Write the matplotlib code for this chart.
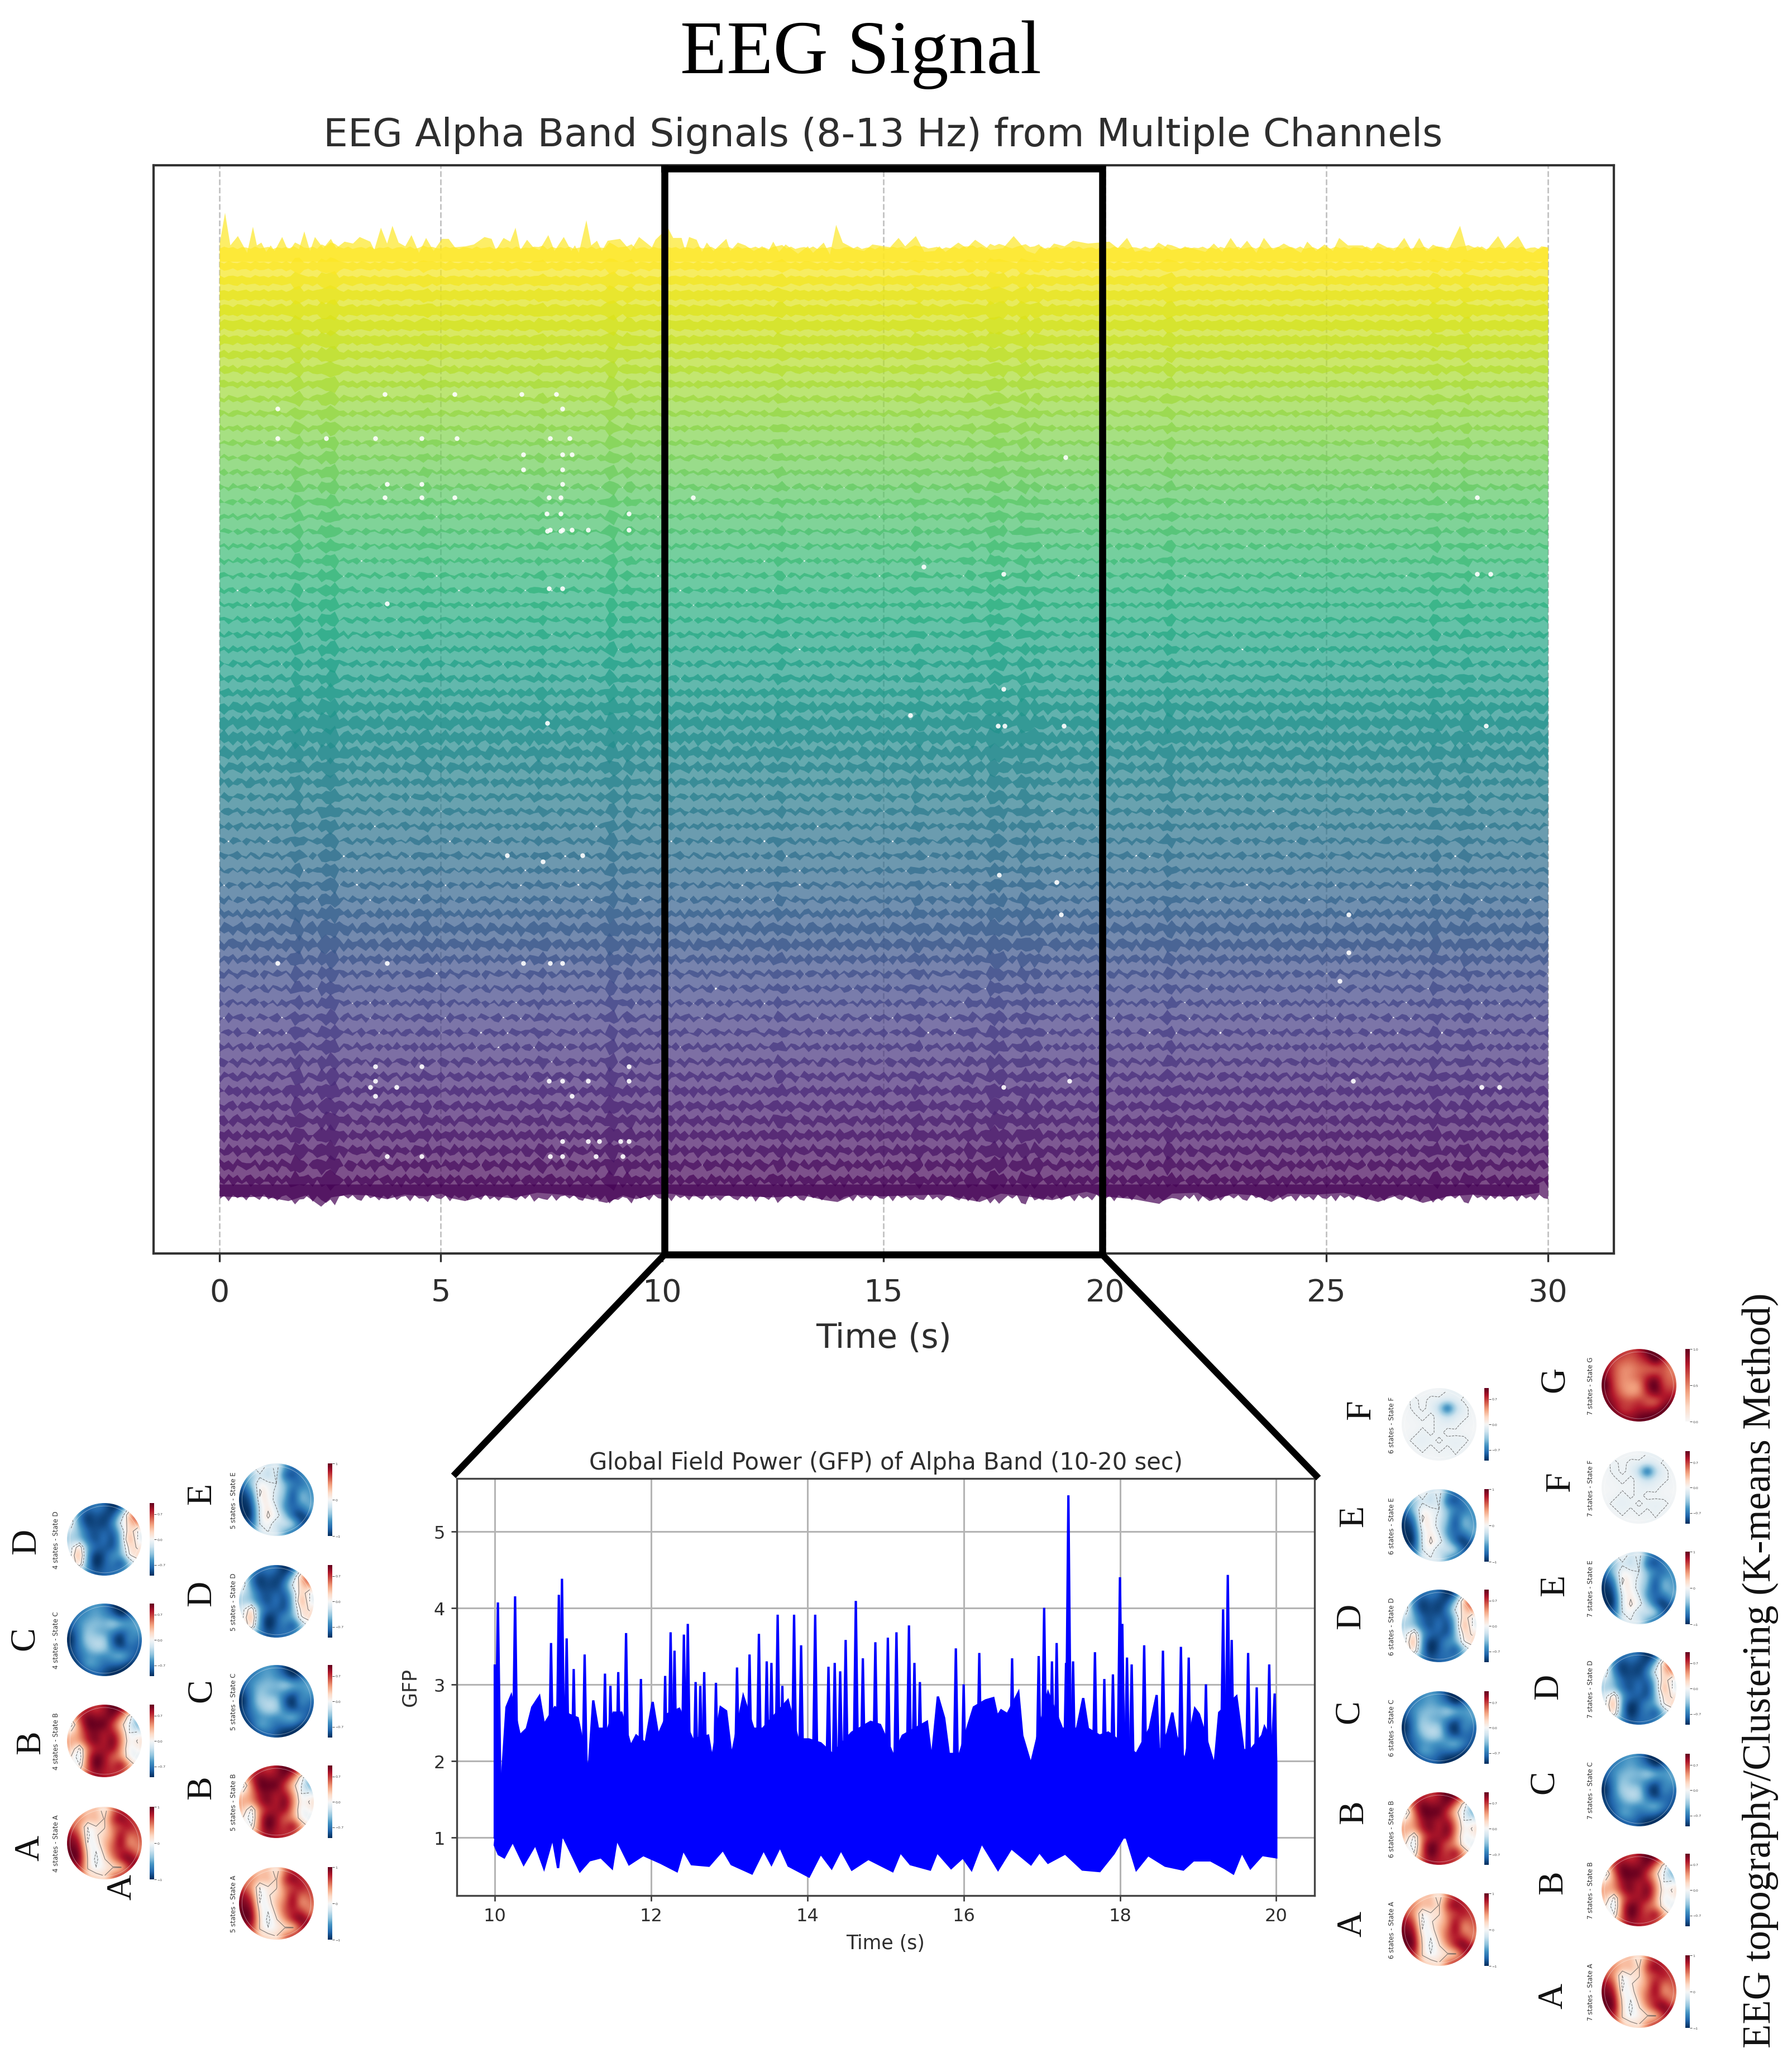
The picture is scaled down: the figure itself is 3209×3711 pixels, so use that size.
import numpy as np
import matplotlib
matplotlib.use('Agg')
import matplotlib.pyplot as plt
from matplotlib.patches import Circle

W, H = 3209, 3712
SERIF = 'Liberation Serif'
INK = '#2e2e2e'

# ---- main chart values ----
n_channels = 64
x_ticks_main = [0, 5, 10, 15, 20, 25, 30]

# half height of each channel's band, in channel spacings (bottom to top)
channel_halfwidth = [.70, .74, .72, .76, .74, .72, .74, .70, .67, .66,
                     .64, .64, .63, .63, .64, .67, .73, .80, .75, .64,
                     .63, .62, .62, .63, .63, .64, .64, .67, .71, .76,
                     .82, .84, .82, .73, .67, .64, .63, .63, .62, .62,
                     .62, .61, .61, .61, .62, .62, .62, .62, .63, .63,
                     .63, .63, .64, .64, .67, .70, .72, .76, .80, .84,
                     .84, .80, .76, .74]
# how far each band's edge wanders, same order
channel_wiggle = [.30, .32, .32, .30, .30, .30, .28, .28, .28, .28,
                  .26, .26, .26, .26, .26, .28, .30, .32, .30, .26,
                  .24, .24, .24, .24, .24, .24, .24, .26, .28, .30,
                  .30, .30, .28, .26, .24, .22, .22, .22, .22, .20,
                  .20, .20, .20, .20, .20, .20, .20, .20, .20, .18,
                  .18, .18, .18, .18, .16, .16, .16, .14, .14, .14,
                  .12, .12, .12, .12]

# band edge wobble, 0.1 s per value
wave_a = [.4, -.6, .7, -.2, .5, -.8, .3, .6, -.5, .2, -.7, .8, -.1, .4, -.6, .5, -.3, .7, -.8, .2,
          .6, -.4, .1, -.7, .5, .8, -.3, .2, -.6, .4, -.9, .6, -.2, .3, -.5, .7, -.4, .1, .6, -.8,
          .3, -.2, .8, -.6, .4, -.1, .5, -.7, .2, -.3]
wave_b = [-.3, .5, -.8, .6, -.1, .4, -.6, .7, .1, -.5, .8, -.4, .2, -.7, .3, .6, -.2, -.6, .5, -.3,
          .7, -.9, .4, .1, -.5, .6, -.7, .3, .5, -.2, .6, -.4, -.7, .8, -.1, .3, -.6, .5, -.3, .7,
          -.5, .2, .4, -.8, .6, -.2, .3, -.6, .7, -.1]
wave_c = [.6, .1, -.7, .3, -.4, .8, -.2, -.6, .5, .2, -.3, .7, -.8, .4, .1, -.5, .6, -.1, .3, -.7,
          .8, -.3, -.5, .4, .2, -.6, .7, -.2, .1, -.8, .5, .3, -.4, .6, -.7, .2, .4, -.1, -.6, .8,
          -.2, .5, -.7, .3, -.4, .6, .1, -.5, .4, -.6]
wave_d = [-.7, .2, .5, -.4, .8, -.6, .1, .3, -.8, .6, -.2, -.4, .7, -.1, .5, -.7, .4, .2, -.5, .8,
          -.3, .1, .6, -.7, .3, -.2, .5, -.6, .8, -.4, .2, -.1, .7, -.5, .3, -.8, .6, -.2, .4, -.3,
          .7, -.6, .1, .5, -.4, .8, -.7, .2, -.1, .6]
wave_e = [.2, .9, -.4, -.7, .6, .1, -.9, .5, .3, -.2, .7, -.6, -.1, .8, -.5, .2, .4, -.8, .6, -.3,
          -.1, .7, -.6, .3, .5, -.9, .2, .8, -.4, -.2, .6, -.7, .1, .4, -.3, .9, -.5, -.6, .7, .2,
          -.8, .3, .6, -.1, -.4, .5, -.9, .7, .1, -.2]
wave_f = [-.1, -.8, .3, .9, -.5, .2, .6, -.4, -.7, .8, .1, -.3, .5, -.9, .4, .7, -.2, -.6, .2, .6,
          -.8, .4, -.1, .5, -.3, -.7, .9, -.2, .3, .6, -.5, -.1, -.8, .7, .2, -.4, .1, .8, -.6, -.3,
          .5, .2, -.9, .6, .3, -.7, .4, -.1, -.5, .8]
wave_lists = [wave_a, wave_b, wave_c, wave_d, wave_e, wave_f]

# moments where every channel swells, giving the dark vertical streaks
burst_times = [1.7, 2.3, 2.5, 4.6, 7.2, 8.8, 9.2, 12.6, 15.7, 16.9, 17.4, 17.6, 18.1, 18.4, 21.4, 27.4, 28.1]
burst_sizes = [.27, .2, .3, .12, .12, .3, .15, .15, .15, .15, .24, .2, .24, .15, .2, .18, .18]

# top edge of the highest channel: time (s), height above the usual edge
top_time = [0, .12, .24, .41, .62, .75, .84, .94, 1.05, 1.15, 1.24, 1.41, 1.53, 1.67, 1.79, 1.91, 2.04, 2.15, 2.34,
            2.51, 2.63, 2.82, 3.01, 3.16, 3.40, 3.49, 3.64, 3.78, 3.90, 4.04, 4.19, 4.33, 4.50, 4.66, 4.83, 5.02,
            5.17, 5.31, 5.55, 5.74, 5.98, 6.14, 6.24, 6.41, 6.56, 6.68, 6.79, 6.94, 7.08, 7.22, 7.42, 7.56, 7.77,
            7.94, 8.02, 8.11, 8.28, 8.39, 8.52, 8.63, 8.76, 9.04, 9.28, 9.47, 9.76, 9.84, 10.12, 10.24, 10.43,
            10.51, 10.60, 10.77, 10.89, 11.0, 11.15, 11.44, 11.53, 11.70, 11.87, 12.06, 12.25, 12.39, 12.50, 12.63,
            12.78, 13.06, 13.28, 13.40, 13.64, 13.78, 13.92, 14.07, 14.35, 14.55, 14.74, 15.14, 15.33, 15.48, 15.72,
            15.91, 16.15, 16.25, 16.39, 16.68, 16.87, 17.06, 17.40, 17.69, 17.93, 18.22, 18.41, 18.55, 18.70, 18.84,
            19.08, 19.27, 19.61, 20.09, 20.28, 20.49, 20.67, 20.81, 21.01, 21.20, 21.49, 21.87, 22.26, 22.45, 22.64,
            22.83, 23.02, 23.20, 23.41, 23.58, 23.79, 24.03, 24.42, 24.56, 24.76, 24.95, 25.14, 25.28, 25.48, 25.81,
            26.01, 26.15, 26.53, 26.75, 26.92, 27.09, 27.25, 27.50, 27.74, 28.01, 28.17, 28.41, 28.60, 28.87, 29.03,
            29.32, 29.51, 29.66, 29.85, 30.0]
top_height = [40, 205, 30, 80, -10, 130, 30, 45, -5, 30, 0, 75, 10, 25, 10, 105, 0, 75, 15,
              65, 15, 50, 40, 75, 50, 5, 125, 40, 135, 45, 25, 85, -10, 70, 0, 65,
              65, 20, 25, 35, 75, 65, 5, 70, 50, 125, 5, 60, 20, 5, 85, 0, 75,
              0, 30, -10, 165, 30, 55, 0, 55, 65, 0, 75, 20, 60, 125, 70, 70,
              5, 75, 60, -5, 45, 0, 65, 0, 45, 30, 0, 25, 0, 50, -5,
              35, -15, 25, -10, 45, -20, 140, 45, 10, 0, 35, 20, 70, 25, 80,
              -5, 0, 25, -5, 45, 15, 60, 5, 15, 80, 0, -15, 25, 5, 40,
              25, 55, 40, 50, 15, 70, -5, 5, -5, 45, 5, 20, -5, 40, -5,
              70, 5, 55, -10, 70, 5, 40, -10, 50, 0, 35, 0, 70, 30, 30,
              0, 45, 0, 70, 0, 70, 0, 25, 0, 135, 0, 25, 0, 80, 15,
              80, 0, -10, 25, 20]

# bottom edge of the lowest channel: time (s), depth below the usual edge
bottom_time = [0, .58, .97, 1.55, 1.94, 2.29, 2.52, 2.91, 3.39, 3.78, 4.17, 4.65, 5.0, 5.23, 5.54, 6.0, 6.59, 7.17,
               7.95, 8.74, 9.11, 9.40, 9.79, 10.17, 10.66, 11.24, 11.82, 12.5, 13.18, 13.66, 13.95, 14.34, 14.92,
               15.5, 16.28, 17.16, 17.64, 18.22, 18.80, 19.19, 19.57, 19.96, 20.64, 21.22, 21.51, 22.09, 22.35, 22.87,
               23.36, 23.75, 24.12, 24.79, 25.38, 26.16, 26.65, 27.17, 27.72, 28.30, 28.88, 29.27, 29.80]
bottom_depth = [10, 15, 10, 35, 5, 65, 15, 0, 5, 25, 0, 10, -5, 20, 35, 5, 20, -10, 5, 45, 5, 25, 0, -5, 10, 5, 10,
                15, 5, 30, 40, 0, 10, 5, 0, 40, -5, 10, 30, 5, -15, 10, 25, 50, -5, -10, 35, -5, 5, 40, -5, 0, -10,
                40, 0, 45, 10, 0, 10, 10, -10]

# white pin holes between bands: time (s), height in channels
gap_time = [3.73, 5.31, 6.82, 7.61, 1.31, 7.74, 7.47, 7.91, 5.36, 4.57, 3.52, 1.31, 2.41, 6.86, 7.74, 7.96, 6.86, 7.74,
            3.78, 4.57, 7.74, 3.73, 4.57, 5.31, 7.44, 7.70, 10.69, 7.39, 7.70, 9.25, 7.47, 7.74, 7.96, 8.32, 9.25, 7.44,
            7.74, 3.78, 1.31, 3.78, 6.86, 7.47, 7.74, 3.52, 4.57, 9.25, 3.52, 7.44, 7.74, 8.32, 9.25, 3.52, 7.96, 7.74,
            8.32, 8.57, 9.05, 9.25, 4.57, 3.78, 7.47, 7.74, 8.50, 9.10, 8.50, 8.55, 7.39, 7.39, 8.55,
            17.58, 17.73, 19.07, 28.6, 28.4, 28.7, 17.6, 18.9, 19.0, 25.5, 25.5, 28.5, 28.9, 25.6, 25.5, 28.5,
            7.4, 7.7, 17.7, 15.9, 19.1, 17.7, 28.4, 25.3, 6.5, 7.4, 7.3, 15.6, 4.0, 3.4, 17.7, 19.2, 8.2]
gap_level = [58.3, 58.3, 58.3, 58.3, 57.3, 57.3, 55.3, 55.3, 55.3, 55.3, 55.3, 55.3, 55.3, 54.2, 54.2, 54.2, 53.2, 53.2,
             52.2, 52.2, 52.2, 51.3, 51.3, 51.3, 51.3, 51.3, 51.3, 50.2, 50.2, 50.2, 49.1, 49.1, 49.1, 49.1, 49.1, 45.1,
             45.1, 44.1, 19.7, 19.7, 19.7, 19.7, 19.7, 12.7, 12.7, 12.7, 11.7, 11.7, 11.7, 11.7, 11.7, 10.7, 10.7, 7.6,
             7.6, 7.6, 7.6, 7.6, 6.6, 6.6, 6.6, 6.6, 6.6, 6.6, 3.6, 2.6, 2.6, 1.6, .5,
             35.8, 35.8, 35.8, 35.8, 46.1, 46.1, 25.7, 25.2, 23.0, 20.4, 23.0, 11.3, 11.3, 11.7, 3.2, 3.2,
             49.0, 49.0, 46.1, 46.6, 54.0, 38.3, 51.3, 18.5, 27.0, 36.0, 26.6, 36.5, 11.3, 11.3, 11.3, 11.7, 27.0]

# ---- GFP inset values ----
gfp_up_time = [10.0, 10.04, 10.10, 10.15, 10.21, 10.26, 10.32, 10.41, 10.48, 10.57, 10.63, 10.72, 10.77, 10.82, 10.86, 10.92,
               10.96, 11.01, 11.06, 11.15, 11.20, 11.26, 11.32, 11.41, 11.45, 11.48, 11.52, 11.58, 11.62, 11.68, 11.74,
               11.81, 11.87, 11.93, 12.02, 12.09, 12.18, 12.21, 12.25, 12.30, 12.36, 12.42, 12.47, 12.53, 12.57, 12.63,
               12.68, 12.73, 12.78, 12.83, 12.89, 12.96, 13.03, 13.10, 13.18, 13.26, 13.31, 13.38, 13.43, 13.48, 13.54,
               13.62, 13.68, 13.75, 13.83, 13.88, 13.92, 14.02, 14.10, 14.17, 14.27, 14.32, 14.35, 14.42, 14.49, 14.57,
               14.62, 14.66, 14.71, 14.81, 14.87, 14.93, 15.03, 15.10, 15.14, 15.22, 15.30, 15.37, 15.44, 15.53, 15.59,
               15.67, 15.75, 15.81, 15.90, 15.95, 16.00, 16.06, 16.13, 16.20, 16.28, 16.38, 16.43, 16.48, 16.56, 16.62,
               16.70, 16.75, 16.86, 16.96, 17.03, 17.08, 17.13, 17.19, 17.26, 17.31, 17.34, 17.40, 17.45, 17.53, 17.59,
               17.68, 17.74, 17.80, 17.85, 17.91, 18.00, 18.03, 18.09, 18.15, 18.21, 18.31, 18.38, 18.47, 18.50, 18.55,
               18.61, 18.67, 18.72, 18.78, 18.83, 18.88, 18.96, 19.01, 19.10, 19.21, 19.27, 19.32, 19.38, 19.43, 19.49,
               19.58, 19.64, 19.67, 19.75, 19.82, 19.85, 19.91, 19.95, 19.98, 20.0]
gfp_upper = [3.26, 4.07, 1.90, 2.70, 2.85, 4.15, 2.33, 2.42, 2.70, 2.84, 2.47, 3.54, 2.70, 4.17, 4.38, 3.60,
             2.60, 3.20, 2.56, 3.39, 1.86, 2.79, 2.42, 3.14, 2.42, 2.98, 2.63, 3.16, 2.63, 3.67, 2.19,
             2.33, 3.07, 2.23, 2.77, 2.33, 3.11, 2.61, 3.68, 3.44, 2.68, 3.65, 3.79, 2.28, 3.03, 2.98,
             3.16, 2.33, 2.02, 3.02, 2.70, 2.65, 2.05, 3.22, 2.84, 3.39, 2.42, 3.66, 2.42, 3.30, 3.28,
             3.91, 2.98, 2.79, 3.91, 2.28, 3.51, 2.28, 3.91, 2.23, 3.23, 2.09, 3.28, 3.17, 3.58, 2.37,
             4.09, 2.42, 3.34, 2.51, 3.55, 2.47, 3.61, 2.07, 3.68, 2.33, 3.77, 3.28, 3.03, 2.51, 2.00,
             2.84, 2.56, 2.09, 3.47, 2.09, 3.00, 2.47, 2.70, 3.41, 2.79, 2.82, 2.58, 2.66, 2.61, 3.34,
             2.89, 2.33, 1.95, 3.37, 4.00, 2.89, 3.30, 3.54, 2.42, 3.28, 5.47, 3.30, 2.42, 2.82, 2.42,
             3.42, 2.33, 3.07, 2.37, 3.13, 4.40, 3.79, 3.35, 3.26, 2.09, 3.51, 2.42, 2.86, 2.09, 3.44,
             2.37, 2.63, 2.33, 3.49, 2.00, 3.35, 2.68, 2.61, 3.00, 1.93, 2.63, 3.98, 4.43, 3.58, 2.84,
             2.14, 3.41, 2.14, 2.96, 2.33, 2.44, 3.26, 2.23, 2.88, 1.95]
gfp_low_time = [10.0, 10.05, 10.12, 10.23, 10.37, 10.52, 10.63, 10.74, 10.81, 10.86, 11.09, 11.21, 11.36, 11.50, 11.56, 11.72,
                11.90, 12.12, 12.33, 12.41, 12.52, 12.74, 12.92, 13.03, 13.29, 13.44, 13.54, 13.65, 13.76, 14.02, 14.17,
                14.31, 14.43, 14.57, 14.78, 15.09, 15.19, 15.32, 15.57, 15.66, 15.84, 15.99, 16.10, 16.23, 16.44, 16.61,
                16.86, 16.97, 17.08, 17.30, 17.52, 17.74, 17.92, 18.07, 18.21, 18.36, 18.58, 18.81, 18.94, 19.16, 19.34,
                19.45, 19.56, 19.67, 19.82, 20.0]
gfp_lower = [.90, .78, .74, .95, .65, .91, .60, 1.0, .60, 1.05, .56, .70, .74, .60, .98, .65,
             .77, .67, .56, .84, .65, .63, .84, .65, .53, .84, .65, .88, .63, .49, .79,
             .60, .84, .58, .72, .56, .81, .65, .58, .81, .60, .74, .58, .93, .58, .86,
             .65, .81, .67, .79, .58, .56, .79, 1.05, .58, .77, .63, .58, .70, .70, .60,
             .53, .81, .60, .77, .74]
gfp_xticks = [10, 12, 14, 16, 18, 20]
gfp_yticks = [1, 2, 3, 4, 5]

# ---- topographies, 9x9 rows top to bottom ----
state_a = [[.3, .3, .2, .3, .0, .5, .7, .6, .5],
           [.4, .5, .3, .35, .1, .7, .9, .7, .5],
           [.6, .4, -.1, .1, .1, .5, .6, .8, .6],
           [.8, .6, -.15, .1, .2, .4, .85, .45, .6],
           [.85, .8, -.1, .0, .3, .5, .9, .3, .5],
           [.9, .9, .05, -.1, .2, .6, .7, .7, .4],
           [.9, .95, .1, -.15, .1, .4, .8, .95, .7],
           [.6, .8, .1, -.1, .05, .1, .1, .7, .8],
           [.6, .6, .2, .2, .1, .5, .7, .7, .6]]
state_b = [[.3, .5, .7, .6, .75, .95, .9, .6, .1],
           [.2, .7, .9, .8, .8, .9, .5, .0, -.4],
           [-.2, .5, .95, .9, .95, .6, .2, -.1, -.5],
           [.2, .4, .8, .85, .7, .8, .4, -.1, -.05],
           [.35, .4, .75, .9, .65, .95, .5, -.05, .15],
           [.3, -.15, .5, .7, .75, .85, .4, -.1, .05],
           [.1, -.25, .6, .95, .8, .5, .4, -.05, -.1],
           [.1, -.1, .6, 1, .75, .6, .9, .4, 0],
           [.0, .2, .6, .8, .7, .7, .6, .3, .1]]
state_c = [[-.7, -.7, -.55, -.5, -.6, -.85, -1, -.9, -.6],
           [-.7, -.6, -.55, -.45, -.55, -.7, -.95, -.7, -.5],
           [-.75, -.55, -.4, -.35, -.4, -.2, -.35, -.5, -.45],
           [-.85, -.6, -.3, -.45, -.5, -.6, -.8, -.6, -.5],
           [-.95, -.6, -.25, -.25, -.25, -.8, -1, -.5, -.7],
           [-.85, -.65, -.4, -.2, -.25, -.65, -.85, -.7, -.75],
           [-.85, -.7, -.55, -.55, -.6, -.45, -.3, -.6, -.8],
           [-.95, -.8, -.4, -.5, -.7, -.7, -.75, -.9, -.9],
           [-.9, -.95, -.8, -.7, -.8, -.95, -.95, -.95, -.9]]
state_d = [[.1, -.4, -.7, -.6, -.7, -.95, -.85, -.1, .6],
           [.0, -.7, -.9, -.75, -.85, -.85, -.3, .35, .8],
           [.05, -.6, -.9, -.8, -.9, -.6, -.05, .2, .4],
           [-.2, -.4, -.75, -.8, -.7, -.8, -.3, .3, -.1],
           [-.3, -.4, -.7, -.85, -.6, -.9, -.4, .5, -.1],
           [-.15, .3, -.5, -.7, -.75, -.85, -.4, .2, .1],
           [-.1, .5, -.6, -.95, -.8, -.5, -.5, .1, .2],
           [-.1, .3, -.6, -1, -.75, -.6, -.9, -.4, .0],
           [-.1, -.3, -.6, -.8, -.7, -.7, -.6, -.3, -.1]]
state_e = [[-.3, -.2, .1, -.25, 0, -.5, -.7, -.6, -.4],
           [-.5, -.4, -.15, -.3, -.05, -.8, -.85, -.6, -.4],
           [-.7, -.3, .05, -.05, -.1, -.4, -.6, -.75, -.5],
           [-.85, -.6, .15, 0, -.15, -.35, -.85, -.4, -.55],
           [-.9, -.8, .1, .05, -.2, -.45, -.9, -.3, -.5],
           [-.9, -.9, -.05, .1, -.1, -.6, -.7, -.7, -.4],
           [-.95, -.95, -.05, .15, 0, -.3, -.8, -.95, -.7],
           [-.6, -.85, -.1, .05, -.3, -.1, -.2, -.8, -.8],
           [-.6, -.6, -.1, -.1, -.1, -.5, -.7, -.7, -.6]]
state_f = [[-.02, -.02, -.03, -.02, -.02, -.06, -.07, -.06, -.04],
           [-.02, -.08, -.02, -.08, -.07, -.08, -.07, -.04, -.03],
           [-.01, -.08, -.03, -.08, -.25, -1, -.25, -.08, -.02],
           [-.02, -.03, -.08, -.03, -.08, -.2, -.08, -.08, -.02],
           [-.02, -.02, -.03, -.03, -.08, -.08, -.08, -.02, -.02],
           [-.02, -.02, -.08, -.03, -.08, -.02, -.03, -.02, -.02],
           [-.02, -.08, -.08, -.08, -.03, -.08, -.08, -.08, -.02],
           [-.02, -.02, -.08, -.02, -.08, -.03, -.08, -.03, -.04],
           [-.02, -.02, -.02, -.02, -.02, -.04, -.04, -.04, -.04]]
state_g = [[.7, .75, .65, .6, .7, .9, 1, .9, .5],
           [.75, .6, .55, .5, .6, .7, 1, .65, .45],
           [.8, .6, .4, .4, .5, .5, .45, .6, .4],
           [.85, .6, .4, .45, .55, .7, .85, .55, .5],
           [1, .6, .4, .35, .35, .85, 1, .6, .55],
           [.85, .7, .45, .35, .4, .7, .9, .7, .7],
           [.9, .75, .65, .6, .7, .5, .45, .75, .85],
           [.95, .85, .6, .65, .75, .75, .8, .95, .95],
           [.9, .95, .85, .8, .9, .95, .95, .95, .9]]
state_maps = {'A': state_a, 'B': state_b, 'C': state_c, 'D': state_d,
              'E': state_e, 'F': state_f, 'G': state_g}

# layout of the four columns, pixels of the target picture
# states, disc x, title x, colorbar x, disc y for A.., letter x for A.., letter y for A..
columns = [
    (4, 187, 100, 268, [3302, 3119, 2938, 2758], [54, 56, 45, 48], [3310, 3121, 2935, 2761]),
    (5, 495, 418, 587, [3410, 3228, 3048, 2869, 2687], [219, 362, 362, 362, 362], [3380, 3202, 3028, 2854, 2676]),
    (6, 2577, 2492, 2658, [3457, 3276, 3095, 2913, 2733, 2552],
     [2422, 2425, 2417, 2420, 2425, 2438], [3446, 3246, 3066, 2895, 2716, 2525]),
    (7, 2935, 2848, 3018, [3568, 3386, 3207, 3025, 2845, 2665, 2482],
     [2782, 2782, 2766, 2774, 2785, 2795, 2785], [3575, 3372, 3192, 3021, 2840, 2654, 2471]),
]


def px_axes(fig, x0, y0, x1, y1, **kw):
    return fig.add_axes([x0 / W, 1 - y1 / H, (x1 - x0) / W, (y1 - y0) / H], **kw)


def draw_main(ax):
    spacing_px = 26.4
    bottom_px, top_px = 2246, 297
    ax.set_ylim(0, (bottom_px - top_px) / spacing_px)
    ax.set_xlim(-1.488, 31.49)
    offsets = 4.5 + np.arange(n_channels)
    wave_time = np.arange(301) * 0.1
    burst = np.zeros(301)
    for t, s in zip(burst_times, burst_sizes):
        i = int(round(t * 10))
        burst[i] = s
        burst[i + 1] = s
    height_scale = 1 / (3 * spacing_px)
    n_waves = len(wave_lists)
    for ch in range(n_channels):
        col = plt.cm.viridis(ch / (n_channels - 1))
        up_wave = np.roll(np.resize(wave_lists[ch % n_waves], 301), ch * 7)
        low_wave = np.roll(np.resize(wave_lists[(ch * 5 + 1) % n_waves], 301), ch * 11)
        upper = offsets[ch] + channel_halfwidth[ch] + channel_wiggle[ch] * up_wave + burst
        lower = offsets[ch] - channel_halfwidth[ch] + channel_wiggle[ch] * low_wave - burst
        ax.fill_between(wave_time, lower, upper, color=col, alpha=0.7, lw=0)
    # outer edges were read directly
    top_col = plt.cm.viridis(1.0)
    ax.fill_between(top_time, offsets[-1] - 0.2,
                    (bottom_px - 450) / spacing_px + np.array(top_height) * height_scale,
                    color=top_col, alpha=0.7, lw=0)
    low_col = plt.cm.viridis(0.0)
    ax.fill_between(bottom_time, (bottom_px - 2140) / spacing_px - np.array(bottom_depth) * height_scale,
                    offsets[0] + 0.2, color=low_col, alpha=0.7, lw=0)
    ax.scatter(gap_time, gap_level, s=38, color='white', alpha=0.9, lw=0, zorder=3)
    ax.set_xticks(x_ticks_main)
    ax.set_yticks([])
    ax.grid(axis='x', ls='--', color='#9a9a9a', alpha=0.6, lw=2)
    ax.set_axisbelow(True)
    ax.tick_params(axis='x', labelsize=40, length=11, width=2.4, pad=20, colors=INK)
    ax.set_xlabel('Time (s)', fontsize=43, color=INK, labelpad=18)
    for s in ax.spines.values():
        s.set_linewidth(3)
        s.set_color('#333333')


def draw_gfp(ax):
    up_t, up_v = np.array(gfp_up_time), np.array(gfp_upper)
    # tall readings are narrow spikes rising out of the solid body of the trace
    spike = up_v >= 2.95
    ax.fill(np.r_[up_t[~spike], gfp_low_time[::-1]], np.r_[up_v[~spike], gfp_lower[::-1]],
            facecolor='#0000ff', edgecolor='#0000ff', lw=3, zorder=3)
    for t, v in zip(up_t[spike], up_v[spike]):
        # the trace starts at 10 s, nothing pokes out to the left of it
        ax.fill([max(t - .04, 10), t, t + .04], [1.0, v, 1.0], facecolor='#0000ff', edgecolor='#0000ff',
                lw=3, zorder=3)
    ax.set_xlim(9.514, 20.49)
    ax.set_ylim(0.24, 5.69)
    ax.set_xticks(gfp_xticks)
    ax.set_yticks(gfp_yticks)
    ax.grid(True, color='#b4b4b4', lw=2.2)
    ax.set_axisbelow(True)
    ax.tick_params(labelsize=23, length=7, width=1.8, colors=INK, pad=8)
    ax.set_xlabel('Time (s)', fontsize=25, color=INK, labelpad=12)
    ax.set_ylabel('GFP', fontsize=25, color=INK, labelpad=18)
    ax.set_title('Global Field Power (GFP) of Alpha Band (10-20 sec)', fontsize=30, color=INK, pad=12)
    for s in ax.spines.values():
        s.set_linewidth(2.4)
        s.set_color('#444444')


def draw_topo(fig, cx, cy, bar_x, state):
    grid = np.array(state_maps[state])
    ax = px_axes(fig, cx - 67, cy - 65, cx + 67, cy + 65)
    ax.axis('off')
    im = ax.imshow(grid, cmap='RdBu_r', vmin=-.9, vmax=.9, interpolation='bicubic',
                   extent=[-1, 1, -1, 1], aspect='auto')
    clip = Circle((0, 0), 1, transform=ax.transData)
    im.set_clip_path(clip)
    cells = np.linspace(-8 / 9, 8 / 9, 9)
    levels = [-.05] if state == 'F' else [-.1, .12]
    cs = ax.contour(cells, cells[::-1], grid, levels=levels, colors='#555555', linewidths=0.8, alpha=0.75)
    cs.set_clip_path(clip)
    ax.add_patch(Circle((0, 0), 0.92, fill=False, ec='white', lw=0.6, alpha=0.45))
    # small colorbar
    low = 0 if state == 'G' else -1
    cax = px_axes(fig, bar_x, cy - 65, bar_x + 8, cy + 65)
    cax.imshow(np.linspace(low, 1, 64)[:, None], cmap='RdBu_r', vmin=-1, vmax=1, origin='lower',
               extent=[0, 1, low, 1], aspect='auto')
    cax.set_xticks([])
    cax.yaxis.tick_right()
    cax.set_yticks([low, (low + 1) / 2, 1] if state in 'AEG' else [-.7, 0, .7])
    cax.tick_params(axis='y', labelsize=4.5, length=3, width=0.7, pad=1, colors='#444444')
    for s in cax.spines.values():
        s.set_visible(False)


def main():
    fig = plt.figure(figsize=(W / 100, H / 100), dpi=100)
    ax_main = px_axes(fig, 275, 297, 2890, 2246)
    draw_main(ax_main)
    ax_gfp = px_axes(fig, 818, 2649, 2354, 3396)
    draw_gfp(ax_gfp)

    over = fig.add_axes([0, 0, 1, 1], zorder=20)
    over.set_xlim(0, W)
    over.set_ylim(H, 0)
    over.axis('off')
    over.patch.set_alpha(0)

    # zoom box and its two connectors
    box_x = [1190, 1974, 1974, 1190, 1190]
    box_y = [303, 303, 2248, 2248, 303]
    over.plot(box_x, box_y, color='black', lw=9, solid_joinstyle='miter')
    over.plot([1190, 816], [2248, 2640], color='black', lw=8.5)
    over.plot([1974, 2357], [2248, 2644], color='black', lw=8.5)

    for count, disc_x, title_x, bar_x, disc_ys, let_xs, let_ys in columns:
        for i, cy in enumerate(disc_ys):
            state = 'ABCDEFG'[i]
            draw_topo(fig, disc_x, cy, bar_x, state)
            over.text(title_x, cy, f'{count} states - State {state}', rotation=90, fontsize=8.5,
                      ha='center', va='center', color='#333333')
            over.text(let_xs[i], let_ys[i], state, rotation=90, fontsize=46, family=SERIF,
                      ha='center', va='center', color='#111111')

    over.text(1541, 98, 'EEG Signal', fontsize=98, family=SERIF, ha='center', va='center', color='black')
    over.text(1581, 243, 'EEG Alpha Band Signals (8-13 Hz) from Multiple Channels', fontsize=50,
              ha='center', va='center', color=INK)
    over.text(3152, 2992, 'EEG topography/Clustering (K-means Method)', rotation=90, fontsize=51, family=SERIF,
              ha='center', va='center', color='#111111')

    fig.savefig('out.png', dpi=100, facecolor='white')


if __name__ == '__main__':
    main()
